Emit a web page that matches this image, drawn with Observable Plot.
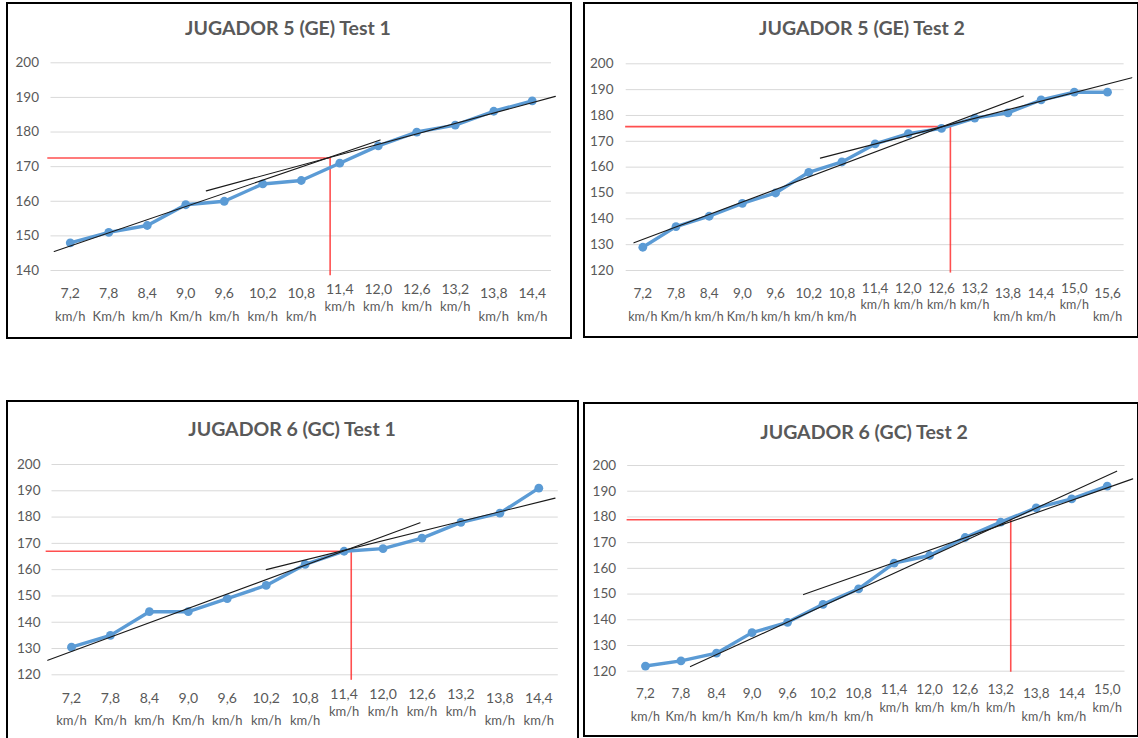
<!DOCTYPE html>
<html><head><meta charset="utf-8">
<script src="https://cdn.jsdelivr.net/npm/d3@7"></script>
<script src="https://cdn.jsdelivr.net/npm/@observablehq/plot@0.6"></script>
<style>
body{margin:0;background:#fff;}
#page{position:relative;width:1138px;height:738px;overflow:hidden;background:#fff;font-family:Lato,"Open Sans",sans-serif;}
.panel{position:absolute;border:2px solid #000;box-sizing:border-box;}
.title{position:absolute;transform:translate(-50%,-50%);font-weight:bold;font-size:19.5px;line-height:24px;color:#595959;white-space:nowrap;}
.chart{position:absolute;}
</style></head><body><div id="page"></div>
<script>
// ---------- data ----------
const speeds13 = [7.2, 7.8, 8.4, 9.0, 9.6, 10.2, 10.8, 11.4, 12.0, 12.6, 13.2, 13.8, 14.4];
const speeds14 = [7.2, 7.8, 8.4, 9.0, 9.6, 10.2, 10.8, 11.4, 12.0, 12.6, 13.2, 13.8, 14.4, 15.0];
const speeds15 = [7.2, 7.8, 8.4, 9.0, 9.6, 10.2, 10.8, 11.4, 12.0, 12.6, 13.2, 13.8, 14.4, 15.0, 15.6];
const numLabels = ["7,2", "7,8", "8,4", "9,0", "9,6", "10,2", "10,8", "11,4", "12,0", "12,6", "13,2", "13,8", "14,4", "15,0", "15,6"];
const unitLabels = ["km/h", "Km/h", "km/h", "Km/h", "km/h", "km/h", "km/h", "km/h", "km/h", "km/h", "km/h", "km/h", "km/h", "km/h", "km/h"];
const yTicks140 = [140, 150, 160, 170, 180, 190, 200];
const yTicks120 = [120, 130, 140, 150, 160, 170, 180, 190, 200];

const titles = ["JUGADOR 5 (GE) Test 1", "JUGADOR 5 (GE) Test 2", "JUGADOR 6 (GC) Test 1", "JUGADOR 6 (GC) Test 2"];

const hrJ5T1 = [148, 151, 153, 159, 160, 165, 166, 171, 176, 180, 182, 186, 189];
const hrJ5T2 = [129, 137, 141, 146, 150, 158, 162, 169, 173, 175, 179, 181, 186, 189, 189];
const hrJ6T1 = [130.5, 135, 144, 144, 149, 154, 162, 167, 168, 172, 178, 181.5, 191];
const hrJ6T2 = [122, 124, 127, 135, 139, 146, 152, 162, 165, 172, 178, 183.5, 187, 192];

// trend lines [speed, hr] endpoints
const trendLowJ5T1 = [[6.95, 145.5], [12.03, 177.7]];
const trendHighJ5T1 = [[9.32, 163.0], [14.76, 190.3]];
const trendLowJ5T2 = [[7.04, 130.7], [14.08, 187.5]];
const trendHighJ5T2 = [[10.41, 163.5], [16.04, 194.6]];
const trendLowJ6T1 = [[6.835, 125.5], [12.57, 177.8]];
const trendHighJ6T1 = [[10.2, 160.0], [14.65, 187.2]];
const trendLowJ6T2 = [[7.96, 121.8], [15.16, 197.8]];
const trendHighJ6T2 = [[9.87, 149.8], [15.43, 194.8]];

// threshold [speed, hr] and red guide extents [start speed, end hr]
const thrJ5T1 = [11.25, 172.5], guideJ5T1 = [6.85, 138.5];
const thrJ5T2 = [12.76, 175.7], guideJ5T2 = [6.89, 119.0];
const thrJ6T1 = [11.51, 167.0], guideJ6T1 = [6.81, 117.9];
const thrJ6T2 = [13.37, 178.9], guideJ6T2 = [6.89, 119.6];

// ---------- layout ----------
const raised = new Set(["11,4", "12,0", "12,6", "13,2", "15,0"]);
const page = document.getElementById("page");

function panel(p) {
  const box = document.createElement("div");
  box.className = "panel";
  Object.assign(box.style, {left: p.box[0] + "px", top: p.box[1] + "px", width: p.box[2] + "px", height: p.box[3] + "px"});
  page.appendChild(box);
  const t = document.createElement("div");
  t.className = "title";
  t.textContent = p.title;
  Object.assign(t.style, {left: p.tpos[0] + "px", top: p.tpos[1] + "px"});
  page.appendChild(t);

  const rows = p.speeds.map((s, i) => ({speed: s, hr: p.hr[i], num: numLabels[i], unit: unitLabels[i]}));
  const normal = rows.filter(r => !raised.has(r.num));
  const up = rows.filter(r => raised.has(r.num));
  const gray = "#595959";
  const chart = Plot.plot({
    width: p.svg[2], height: p.svg[3],
    marginLeft: p.m[0], marginRight: p.m[1], marginTop: p.m[2], marginBottom: p.m[3],
    x: {type: "linear", domain: p.xdom, axis: null},
    y: {domain: p.ydom, axis: null},
    style: {fontFamily: "Lato, 'Open Sans', sans-serif", color: gray, background: "transparent", overflow: "visible"},
    marks: [
      Plot.ruleY(p.yticks, {stroke: "#d9d9d9", strokeWidth: 1}),
      Plot.axisY({ticks: p.yticks, tickSize: 0, tickPadding: p.pad, fontSize: 13.5, fill: gray, label: null}),
      Plot.ruleY([p.thr[1]], {x1: p.guide[0], x2: p.thr[0], stroke: "#ff3030", strokeWidth: 1.6, strokeOpacity: 0.85}),
      Plot.ruleX([p.thr[0]], {y1: p.guide[1], y2: p.thr[1], stroke: "#ff3030", strokeWidth: 1.6, strokeOpacity: 0.85}),
      Plot.line(rows, {x: "speed", y: "hr", stroke: "#5B9BD5", strokeWidth: 3.4}),
      Plot.dot(rows, {x: "speed", y: "hr", r: 4.4, fill: "#5B9BD5"}),
      Plot.line(p.low, {stroke: "#1a1a1a", strokeWidth: 1.1}),
      Plot.line(p.high, {stroke: "#1a1a1a", strokeWidth: 1.1}),
      Plot.text(normal, {x: "speed", text: "num", frameAnchor: "bottom", dy: p.dys[0], lineAnchor: "middle", fontSize: p.fs[0], fill: gray}),
      Plot.text(normal, {x: "speed", text: "unit", frameAnchor: "bottom", dy: p.dys[1], lineAnchor: "middle", fontSize: p.fs[1], fill: gray}),
      Plot.text(up, {x: "speed", text: "num", frameAnchor: "bottom", dy: p.dys[2], lineAnchor: "middle", fontSize: p.fs[0], fill: gray}),
      Plot.text(up, {x: "speed", text: "unit", frameAnchor: "bottom", dy: p.dys[3], lineAnchor: "middle", fontSize: p.fs[1], fill: gray})
    ]
  });
  chart.classList.add("chart");
  Object.assign(chart.style, {left: p.svg[0] + "px", top: p.svg[1] + "px"});
  page.appendChild(chart);
}

panel({title: titles[0], box: [6, 2, 566, 337], tpos: [288, 27.5], svg: [10, 40, 555, 295], m: [40.5, 14, 22.3, 65],
  xdom: [6.9, 14.7], ydom: [140, 200], yticks: yTicks140, pad: 12, speeds: speeds13, hr: hrJ5T1,
  low: trendLowJ5T1, high: trendHighJ5T1, thr: thrJ5T1, guide: guideJ5T1, dys: [23.3, 46.7, 19, 36], fs: [14, 13]});
panel({title: titles[1], box: [583, 2, 556, 336], tpos: [862, 28], svg: [587, 40, 548, 295], m: [38.7, 11.4, 23.3, 65],
  xdom: [6.9, 15.9], ydom: [120, 200], yticks: yTicks120, pad: 12.7, speeds: speeds15, hr: hrJ5T2,
  low: trendLowJ5T2, high: trendHighJ5T2, thr: thrJ5T2, guide: guideJ5T2, dys: [23.3, 46, 18.3, 34], fs: [13.5, 12.5]});
panel({title: titles[2], box: [6, 400, 573, 345], tpos: [292, 429], svg: [10, 440, 565, 295], m: [41.5, 17.2, 24, 60.7],
  xdom: [6.9, 14.7], ydom: [120, 200], yticks: yTicks120, pad: 11.5, speeds: speeds13, hr: hrJ6T1,
  low: trendLowJ6T1, high: trendHighJ6T1, thr: thrJ6T1, guide: guideJ6T1, dys: [24, 46.4, 19.5, 37.4], fs: [14, 13]});
panel({title: titles[3], box: [583, 402, 556, 335], tpos: [864, 432], svg: [587, 440, 548, 295], m: [40.2, 10.5, 25, 64.3],
  xdom: [6.9, 15.3], ydom: [120, 200], yticks: yTicks120, pad: 11.6, speeds: speeds14, hr: hrJ6T2,
  low: trendLowJ6T2, high: trendHighJ6T2, thr: thrJ6T2, guide: guideJ6T2, dys: [22.6, 46, 18.3, 36.6], fs: [13.5, 12.5]});
</script></body></html>
